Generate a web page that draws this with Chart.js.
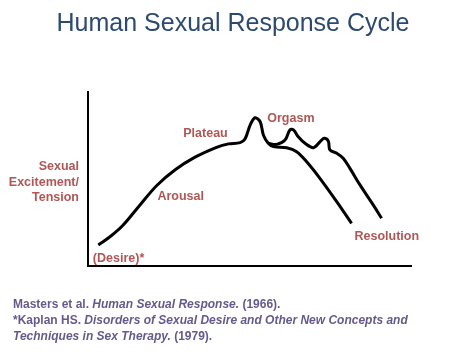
<!DOCTYPE html>
<html>
<head>
<meta charset="utf-8">
<script src="https://cdn.jsdelivr.net/npm/chart.js@4"></script>
<style>
  html, body { margin: 0; padding: 0; background: #fff; }
  #wrap { width: 461px; height: 363px; }
</style>
</head>
<body>
<div id="wrap"><canvas id="cycle"></canvas></div>
<script>
// curve, x = time (0-100), y = excitement (0-100)
const resolutionX = [3.2, 6.8, 10.9, 16.1, 21.3, 27.0, 33.0, 39.8, 43.5, 47.1, 48.6, 50.2, 51.7, 53.3, 54.3, 55.8, 57.4, 61.5, 64.6, 67.7, 71.8, 77.0, 81.6];
const resolutionY = [12.1, 16.8, 23.6, 35.1, 46.3, 55.3, 62.4, 68.2, 70.2, 70.9, 73.0, 81.0, 85.2, 82.9, 75.3, 70.5, 68.6, 68.0, 65.7, 59.9, 50.4, 37.0, 24.5];
// second branch (multiple orgasms)
const multiX = [55.8, 58.4, 61.0, 62.5, 63.6, 65.1, 67.2, 69.8, 71.8, 73.1, 74.4, 74.9, 77.0, 79.0, 81.1, 84.2, 88.3, 90.9];
const multiY = [70.5, 69.9, 72.4, 78.2, 78.2, 74.3, 70.5, 68.0, 71.4, 73.4, 71.8, 66.7, 64.8, 61.9, 56.1, 46.6, 35.1, 27.4];

// phase labels: text, x, y (data units)
const phaseText = ['(Desire)*', 'Arousal', 'Plateau', 'Orgasm', 'Resolution'];
const phaseX = [1.5, 21.5, 29.5, 55.5, 82.5];
const phaseY = [4.5, 40, 76, 84.5, 17];

const titleText = 'Human Sexual Response Cycle';
const yTitle = ['Sexual', 'Excitement/', 'Tension'];
const footLines = [
  [['Masters et al. ', false], ['Human Sexual Response.', true], [' (1966).', false]],
  [['*Kaplan HS. ', false], ['Disorders of Sexual Desire and Other New Concepts and', true]],
  [['Techniques in Sex Therapy.', true], [' (1979).', false]]
];

const toPts = (xs, ys) => xs.map((x, i) => ({ x: x, y: ys[i] }));

const red = '#b05656';
const purple = '#665a8c';

const textPlugin = {
  id: 'texts',
  afterDraw(chart) {
    const c = chart.ctx;
    const xs = chart.scales.x, ys = chart.scales.y;
    c.save();
    // title
    c.fillStyle = '#2c4a70';
    c.font = '25px "Liberation Sans", Arial, sans-serif';
    c.textAlign = 'center';
    c.textBaseline = 'middle';
    c.fillText(titleText, 233, 24);
    // phase labels
    c.fillStyle = red;
    c.font = 'bold 12.5px "Liberation Sans", Arial, sans-serif';
    c.textAlign = 'left';
    phaseText.forEach((t, i) => {
      c.fillText(t, xs.getPixelForValue(phaseX[i]), ys.getPixelForValue(phaseY[i]));
    });
    // y axis title
    c.textAlign = 'right';
    yTitle.forEach((t, i) => c.fillText(t, 79, 167 + i * 15.5));
    // footnotes
    c.textAlign = 'left';
    c.fillStyle = purple;
    footLines.forEach((line, i) => {
      let x = 13;
      line.forEach(([t, it]) => {
        c.font = (it ? 'italic ' : '') + 'bold 12px "Liberation Sans", Arial, sans-serif';
        c.fillText(t, x, 305 + i * 16);
        x += c.measureText(t).width;
      });
    });
    c.restore();
  }
};

new Chart(document.getElementById('cycle'), {
  type: 'line',
  data: {
    datasets: [
      { data: toPts(resolutionX, resolutionY), borderColor: '#000', borderWidth: 3, pointRadius: 0, tension: 0.35 },
      { data: toPts(multiX, multiY), borderColor: '#000', borderWidth: 3, pointRadius: 0, tension: 0.35 }
    ]
  },
  options: {
    responsive: true,
    maintainAspectRatio: false,
    animation: false,
    layout: { padding: { left: 80, top: 92, right: 50, bottom: 89 } },
    plugins: {
      legend: { display: false },
      tooltip: { enabled: false }
    },
    scales: {
      x: {
        type: 'linear', min: 0, max: 100,
        grid: { display: false },
        ticks: { display: false },
        border: { display: true, color: '#000', width: 2 }
      },
      y: {
        min: 0, max: 100,
        grid: { display: false },
        ticks: { display: false },
        border: { display: true, color: '#000', width: 2 }
      }
    }
  },
  plugins: [textPlugin]
});
</script>
</body>
</html>
